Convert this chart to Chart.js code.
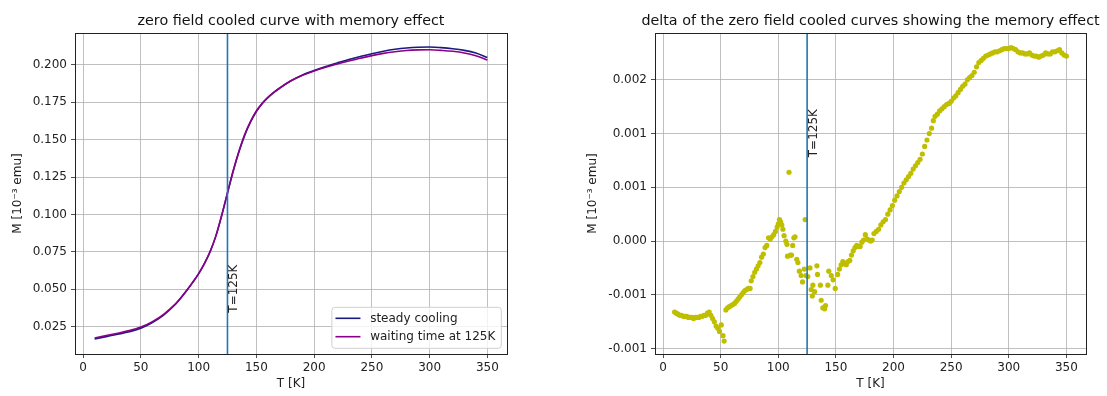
<!DOCTYPE html>
<html>
<head>
<meta charset="utf-8">
<script src="https://cdn.jsdelivr.net/npm/chart.js@4.4.1/dist/chart.umd.min.js"></script>
<style>
  body { margin: 0; background: #fff; }
  #wrap { position: relative; width: 1107px; height: 396px; }
  canvas { position: absolute; top: 0; }
</style>
</head>
<body>
<div id="wrap">
  <canvas id="zfc" width="553" height="396" style="left:0"></canvas>
  <canvas id="delta" width="554" height="396" style="left:553px"></canvas>
</div>
<script>
// M(T) curves, read every 10 K (every 5 K on the steep part)
const temps = [10, 20, 30, 40, 50, 60, 70, 80, 85, 90, 95, 100, 105, 110, 115, 120, 125, 130,
  135, 140, 145, 150, 155, 160, 165, 170, 180, 190, 200, 210, 220, 230, 240, 250, 260, 270,
  280, 290, 300, 310, 320, 330, 340, 350];
const steadyCooling = [0.0168, 0.0184, 0.0200, 0.0217, 0.0240, 0.0278, 0.0330, 0.0400, 0.0445,
  0.0495, 0.0548, 0.0605, 0.0672, 0.0752, 0.0857, 0.0992, 0.1142, 0.1290, 0.1420, 0.1530,
  0.1618, 0.1688, 0.1740, 0.1780, 0.1814, 0.1843, 0.1893, 0.1932, 0.1962, 0.1988, 0.2012,
  0.2035, 0.2055, 0.2074, 0.2090, 0.2103, 0.2112, 0.2117, 0.2118, 0.2114, 0.2107, 0.2096,
  0.2078, 0.2048];
const waitingTime = [0.0175, 0.0191, 0.0207, 0.0224, 0.0248, 0.0284, 0.0335, 0.0403, 0.0447,
  0.0495, 0.0547, 0.0603, 0.0672, 0.0753, 0.0857, 0.0995, 0.1145, 0.1294, 0.1424, 0.1536,
  0.1622, 0.1691, 0.1742, 0.1782, 0.1815, 0.1843, 0.1893, 0.1930, 0.1958, 0.1983, 0.2005,
  0.2025, 0.2043, 0.2061, 0.2076, 0.2087, 0.2095, 0.2099, 0.2100, 0.2096, 0.2090, 0.2079,
  0.2060, 0.2031];

// delta of the two curves (scatter)
const deltaT = [
  10, 11.5, 13, 14.5, 16, 17.5, 19, 20.5, 22, 23.5,
  25, 26.5, 28, 29.5, 31, 32.5, 34, 35.5, 37, 38.5,
  40, 41.5, 43, 44.5, 46, 47.5, 49, 50.5, 52, 53,
  54.5, 56, 57.5, 59, 60.5, 62, 63.5, 65, 66.5, 68,
  69.5, 71, 72.5, 74, 75.5, 76.5, 78, 79.5, 81, 82.5,
  84, 85.5, 87, 88.5, 90, 91.5, 93, 94.5, 96, 97.5,
  99, 100, 101, 102, 103, 104, 105, 106.5, 107.5, 108,
  109.3, 110.5, 111.5, 112.5, 113.5, 114.5, 116, 117, 118.3, 119.8,
  121, 122.5, 123.3, 124, 125.6, 127.5, 128.5, 129.5, 130, 131.5,
  133.5, 134, 136.5, 137.2, 138.6, 140.2, 141, 143, 143.8, 146,
  147.5, 149.4, 151.5, 153, 154.5, 156, 157.5, 159, 160.5, 162,
  163.5, 165, 166.5, 168, 169.5, 171, 172.5, 174, 175.5, 177,
  178.5, 180, 181.5, 183, 185, 187, 189, 191, 193, 195,
  197, 199, 201, 203, 205, 207, 209, 211, 213, 215,
  217, 219, 221, 223, 225, 227, 229, 231, 233, 234.5,
  236, 238, 240, 242, 244, 246, 248, 250, 252, 254,
  256, 258, 260, 262, 264, 266, 268, 270, 272, 274,
  276, 278, 280, 282, 284, 286, 288, 290, 292, 294,
  296, 298, 300, 302, 304, 306, 308, 310, 312, 314,
  316, 318, 320, 322, 324, 326, 328, 330, 332, 334,
  336, 338, 340, 342, 344, 346, 348, 350];
const deltaM = [
  -0.00066, -0.00067, -0.00068, -0.00069, -0.00069, -0.00070, -0.00070, -0.00070, -0.00071, -0.00071,
  -0.00071, -0.00072, -0.00071, -0.00071, -0.00071, -0.00070, -0.00070, -0.00069, -0.00069, -0.00067,
  -0.00066, -0.00069, -0.00072, -0.00075, -0.00079, -0.00081, -0.00084, -0.00078, -0.00088, -0.00093,
  -0.00064, -0.00062, -0.00061, -0.00060, -0.00059, -0.00058, -0.00056, -0.00054, -0.00052, -0.00050,
  -0.00048, -0.00046, -0.00045, -0.00044, -0.00044, -0.00037, -0.00033, -0.00029, -0.00026, -0.00023,
  -0.00020, -0.00015, -0.00012, -0.00006, -0.00004, 0.00003, 0.00002, 0.00004, 0.00006, 0.00009,
  0.00013, 0.00016, 0.00020, 0.00018, 0.00015, 0.00011, 0.00005, 0.00000, -0.00003, -0.00014,
  0.00064, -0.00013, -0.00013, -0.00004, 0.00003, 0.00004, -0.00017, -0.00020, -0.00028, -0.00032,
  -0.00038, -0.00026, 0.00020, -0.00032, -0.00033, -0.00025, -0.00045, -0.00051, -0.00041, -0.00047,
  -0.00023, -0.00031, -0.00041, -0.00055, -0.00062, -0.00063, -0.00060, -0.00041, -0.00028, -0.00032,
  -0.00036, -0.00044, -0.00031, -0.00026, -0.00022, -0.00019, -0.00021, -0.00022, -0.00019, -0.00018,
  -0.00013, -0.00009, -0.00006, -0.00004, -0.00005, -0.00005, -0.00001, 0.00001, 0.00006, 0.00002,
  0.00001, 0.00000, 0.00001, 0.00007, 0.00009, 0.00011, 0.00015, 0.00018, 0.00020, 0.00025,
  0.00029, 0.00033, 0.00038, 0.00042, 0.00046, 0.00050, 0.00054, 0.00057, 0.00060, 0.00063,
  0.00067, 0.00070, 0.00073, 0.00076, 0.00081, 0.00088, 0.00094, 0.00100, 0.00105, 0.00112,
  0.00116, 0.00118, 0.00121, 0.00123, 0.00125, 0.00127, 0.00128, 0.00130, 0.00133, 0.00135,
  0.00138, 0.00141, 0.00144, 0.00146, 0.00150, 0.00152, 0.00154, 0.00157, 0.00162, 0.00166,
  0.00168, 0.00170, 0.00172, 0.00173, 0.00174, 0.00175, 0.00176, 0.00176, 0.00177, 0.00178,
  0.00179, 0.00179, 0.00179, 0.00180, 0.00179, 0.00178, 0.00176, 0.00175, 0.00175, 0.00174,
  0.00174, 0.00175, 0.00173, 0.00172, 0.00172, 0.00171, 0.00172, 0.00173, 0.00175, 0.00174,
  0.00174, 0.00176, 0.00176, 0.00177, 0.00178, 0.00175, 0.00173, 0.00172];

// ticks
const tempTicks = [0, 50, 100, 150, 200, 250, 300, 350];
const zfcTicks = [0.025, 0.050, 0.075, 0.100, 0.125, 0.150, 0.175, 0.200];
const deltaTicks = [-0.001, -0.0005, 0, 0.0005, 0.001, 0.0015];
const deltaTickLabels = ['-0.001', '-0.001', '0.000', '0.001', '0.001', '0.002'];

// waiting temperature and where its label sits
const waitT = 125;
const waitLabel = 'T=125K';

Chart.defaults.font.family = '"DejaVu Sans", sans-serif';
Chart.defaults.font.size = 12;
Chart.defaults.color = '#222';

// spines, axes title and the rotated "T=125K" note
const frame = {
  id: 'frame',
  afterDraw(chart, args, opts) {
    const { ctx, chartArea: a, scales } = chart;
    ctx.save();
    ctx.strokeStyle = '#222';
    ctx.lineWidth = 1;
    ctx.strokeRect(Math.round(a.left) + 0.5, Math.round(a.top) + 0.5,
      Math.round(a.right - a.left), Math.round(a.bottom - a.top));

    ctx.fillStyle = '#111';
    ctx.font = '14.3px "DejaVu Sans"';
    ctx.textAlign = 'center';
    ctx.textBaseline = 'alphabetic';
    ctx.fillText(opts.title, (a.left + a.right) / 2, a.top - 8);

    const px = scales.x.getPixelForValue(waitT);
    const py = scales.y.getPixelForValue(opts.noteY);
    ctx.translate(px + 0.5, py);
    ctx.rotate(-Math.PI / 2);
    ctx.font = '12px "DejaVu Sans"';
    ctx.textAlign = 'left';
    ctx.textBaseline = 'top';
    ctx.fillStyle = '#222';
    ctx.fillText(waitLabel, 0, 0);
    ctx.restore();
  }
};

// matplotlib-like legend in the lower right corner
const cornerLegend = {
  id: 'cornerLegend',
  afterDatasetsDraw(chart) {
    const items = chart.data.datasets.filter(d => d.label);
    const { ctx, chartArea: a } = chart;
    ctx.save();
    ctx.font = '12px "DejaVu Sans"';
    const textW = Math.max(...items.map(d => ctx.measureText(d.label).width));
    const rowH = 18.4;
    const w = 38.3 + textW + 6;
    const h = items.length * rowH + 4.2;
    const x = a.right - 5.7 - w;
    const y = a.bottom - 5.7 - h;
    ctx.beginPath();
    ctx.roundRect(x, y, w, h, 3);
    ctx.fillStyle = 'rgba(255,255,255,0.8)';
    ctx.fill();
    ctx.strokeStyle = '#d0d0d0';
    ctx.lineWidth = 1;
    ctx.stroke();
    ctx.textBaseline = 'middle';
    ctx.textAlign = 'left';
    items.forEach((d, i) => {
      const cy = y + 11 + i * rowH;
      ctx.beginPath();
      ctx.moveTo(x + 3.6, cy);
      ctx.lineTo(x + 28.6, cy);
      ctx.strokeStyle = d.borderColor;
      ctx.lineWidth = 1.6;
      ctx.stroke();
      ctx.fillStyle = '#222';
      ctx.fillText(d.label, x + 38.3, cy + 0.5);
    });
    ctx.restore();
  }
};

function xAxis() {
  return {
    type: 'linear',
    min: -7,
    max: 367,
    afterBuildTicks: s => { s.ticks = tempTicks.map(v => ({ value: v })); },
    afterFit: s => { s.height = 42; },
    grid: { color: '#b0b0b0', lineWidth: 0.8, tickLength: 4, tickColor: '#222' },
    border: { display: false },
    ticks: { padding: 3, maxRotation: 0 },
    title: { display: true, text: 'T [K]', padding: { top: 0, bottom: 4.8 } }
  };
}

function vline(yMin, yMax) {
  return {
    data: [{ x: waitT, y: yMin }, { x: waitT, y: yMax }],
    showLine: true,
    borderColor: '#1f77b4',
    borderWidth: 1.6,
    pointRadius: 0,
    order: 0
  };
}

const zfcMin = 0.0068, zfcMax = 0.2212;
new Chart(document.getElementById('zfc'), {
  type: 'scatter',
  data: {
    datasets: [
      {
        label: 'steady cooling',
        data: temps.map((t, i) => ({ x: t, y: steadyCooling[i] })),
        showLine: true,
        borderColor: '#1a1a80',
        borderWidth: 1.6,
        pointRadius: 0,
        cubicInterpolationMode: 'monotone',
        order: 2
      },
      {
        label: 'waiting time at 125K',
        data: temps.map((t, i) => ({ x: t, y: waitingTime[i] })),
        showLine: true,
        borderColor: '#8b008b',
        borderWidth: 1.6,
        pointRadius: 0,
        cubicInterpolationMode: 'monotone',
        order: 1
      },
      vline(zfcMin, zfcMax)
    ]
  },
  options: {
    responsive: false,
    animation: false,
    events: [],
    layout: { padding: { top: 33, left: 0, right: 46, bottom: 0 } },
    scales: {
      x: xAxis(),
      y: {
        min: zfcMin,
        max: zfcMax,
        afterBuildTicks: s => { s.ticks = zfcTicks.map(v => ({ value: v })); },
        afterFit: s => { s.width = 75; },
        grid: { color: '#b0b0b0', lineWidth: 0.8, tickLength: 4, tickColor: '#222' },
        border: { display: false },
        ticks: { padding: 4, callback: v => v.toFixed(3) },
        title: { display: true, text: 'M [10⁻³ emu]', padding: { top: 10.8, bottom: 0 } }
      }
    },
    plugins: {
      legend: { display: false },
      tooltip: { enabled: false },
      frame: { title: 'zero field cooled curve with memory effect', noteY: 0.0344 }
    }
  },
  plugins: [frame, cornerLegend]
});

const deltaMin = -0.00105, deltaMax = 0.001935;
new Chart(document.getElementById('delta'), {
  type: 'scatter',
  data: {
    datasets: [
      {
        data: deltaT.map((t, i) => ({ x: t, y: deltaM[i] })),
        backgroundColor: '#bfbf00',
        borderWidth: 0,
        pointRadius: 2.6,
        order: 1
      },
      vline(deltaMin, deltaMax)
    ]
  },
  options: {
    responsive: false,
    animation: false,
    events: [],
    layout: { padding: { top: 33, left: 0, right: 21, bottom: 0 } },
    scales: {
      x: xAxis(),
      y: {
        min: deltaMin,
        max: deltaMax,
        afterBuildTicks: s => { s.ticks = deltaTicks.map(v => ({ value: v })); },
        afterFit: s => { s.width = 102; },
        grid: { color: '#b0b0b0', lineWidth: 0.8, tickLength: 4, tickColor: '#222' },
        border: { display: false },
        ticks: { padding: 4, callback: (v, i) => deltaTickLabels[i] },
        title: { display: true, text: 'M [10⁻³ emu]', padding: { top: 32.8, bottom: 0 } }
      }
    },
    plugins: {
      legend: { display: false },
      tooltip: { enabled: false },
      frame: { title: 'delta of the zero field cooled curves showing the memory effect', noteY: 0.00078 }
    }
  },
  plugins: [frame]
});
</script>
</body>
</html>
